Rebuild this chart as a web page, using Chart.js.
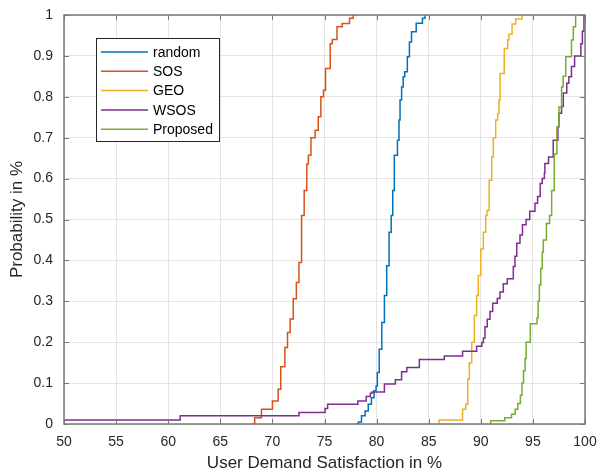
<!DOCTYPE html>
<html>
<head>
<meta charset="utf-8">
<script src="https://cdn.jsdelivr.net/npm/chart.js@4.4.1/dist/chart.umd.min.js"></script>
<style>
html, body { margin: 0; padding: 0; background: #fff; }
#wrap { width: 597px; height: 474px; }
</style>
</head>
<body>
<div id="wrap"><canvas id="cdfChart" width="597" height="474"></canvas></div>
<script>
// --- data (x = satisfaction %, y = cumulative probability) ---
const seriesNames = ['random', 'SOS', 'GEO', 'WSOS', 'Proposed'];
const seriesColors = ['#0072BD', '#D95319', '#EDB120', '#7E2F8E', '#77AC30'];

const randomPts = [[78.0,0],[78.25,0.005],[78.55,0.02],[78.9,0.032],[79.2,0.048],[79.5,0.064],[79.75,0.081],[79.95,0.093],[80.07,0.126],[80.25,0.183],[80.5,0.248],[80.75,0.314],[80.97,0.387],[81.2,0.469],[81.4,0.51],[81.55,0.571],[81.7,0.657],[82.0,0.694],[82.15,0.743],[82.25,0.792],[82.4,0.824],[82.55,0.849],[82.7,0.861],[82.95,0.898],[83.15,0.934],[83.35,0.959],[83.8,0.98],[84.4,0.992],[84.65,1]];

const sosPts = [[68.05,0],[68.3,0.015],[68.95,0.036],[70.0,0.056],[70.55,0.085],[70.8,0.14],[71.2,0.187],[71.45,0.224],[71.7,0.257],[72.0,0.306],[72.3,0.346],[72.55,0.395],[72.8,0.51],[73.05,0.571],[73.3,0.636],[73.45,0.657],[73.7,0.7],[74.1,0.718],[74.4,0.751],[74.65,0.8],[74.9,0.816],[75.1,0.869],[75.55,0.93],[75.75,0.94],[76.2,0.971],[76.7,0.979],[77.4,0.992],[77.75,1]];

const geoPts = [[85.92,0],[86.0,0.01],[88.25,0.036],[88.55,0.048],[88.75,0.11],[88.9,0.15],[89.13,0.2],[89.38,0.265],[89.6,0.314],[89.76,0.363],[90.0,0.428],[90.24,0.469],[90.47,0.51],[90.6,0.522],[90.8,0.596],[91.05,0.653],[91.2,0.7],[91.43,0.743],[91.62,0.759],[91.75,0.792],[91.85,0.857],[92.25,0.918],[92.58,0.939],[92.7,0.953],[93.0,0.978],[93.35,0.99],[93.95,1]];

const wsosPts = [[50,0],[50,0.01],[61.15,0.02],[72.55,0.028],[75.05,0.038],[75.3,0.048],[78.2,0.056],[79.0,0.067],[79.4,0.075],[79.55,0.078],[80.75,0.098],[81.8,0.108],[82.4,0.128],[82.9,0.138],[84.1,0.158],[86.5,0.166],[88.25,0.178],[89.6,0.19],[90.1,0.199],[90.25,0.21],[90.4,0.238],[90.62,0.256],[90.88,0.275],[91.14,0.295],[91.58,0.307],[91.84,0.323],[92.16,0.343],[92.54,0.355],[93.12,0.385],[93.28,0.41],[93.45,0.442],[93.76,0.462],[94.0,0.487],[94.35,0.5],[94.7,0.52],[95.2,0.54],[95.45,0.556],[95.7,0.588],[95.9,0.6],[96.1,0.613],[96.15,0.637],[96.5,0.653],[96.95,0.694],[97.4,0.727],[97.5,0.76],[97.75,0.776],[97.92,0.809],[98.25,0.833],[98.45,0.849],[98.7,0.874],[99.0,0.9],[99.6,0.93],[99.75,0.96],[99.9,1]];

const proposedPts = [[90.9,0],[90.95,0.008],[92.3,0.015],[92.95,0.024],[93.3,0.036],[93.55,0.05],[93.8,0.07],[93.95,0.1],[94.1,0.13],[94.25,0.16],[94.35,0.2],[94.75,0.245],[95.4,0.26],[95.5,0.3],[95.62,0.34],[95.75,0.38],[95.9,0.42],[96.0,0.45],[96.3,0.49],[96.6,0.51],[96.8,0.571],[97.05,0.66],[97.3,0.726],[97.5,0.775],[97.75,0.824],[97.9,0.85],[98.15,0.898],[98.7,0.939],[98.88,0.971],[99.1,1]];

const seriesPts = [randomPts, sosPts, geoPts, wsosPts, proposedPts];

// axis ticks
const xTickValues = [50, 55, 60, 65, 70, 75, 80, 85, 90, 95, 100];
const yTickValues = [0, 0.1, 0.2, 0.3, 0.4, 0.5, 0.6, 0.7, 0.8, 0.9, 1];
const yTickLabels = ['0', '0.1', '0.2', '0.3', '0.4', '0.5', '0.6', '0.7', '0.8', '0.9', '1'];

const FONT = "'Liberation Sans', Arial, sans-serif";
const TEXT_COLOR = '#262626';

// --- box round the axes with inward tick marks (MATLAB look) ---
const boxPlugin = {
    id: 'boxPlugin',
    afterDatasetsDraw(chart) {
        const { ctx, chartArea: a, scales } = chart;
        ctx.save();
        ctx.strokeStyle = '#777777';
        ctx.lineWidth = 1;
        ctx.beginPath();
        xTickValues.forEach(v => {
            const px = Math.round(scales.x.getPixelForValue(v)) + 0.5;
            ctx.moveTo(px, a.bottom); ctx.lineTo(px, a.bottom - 5);
            ctx.moveTo(px, a.top); ctx.lineTo(px, a.top + 5);
        });
        yTickValues.forEach(v => {
            const py = Math.round(scales.y.getPixelForValue(v)) + 0.5;
            ctx.moveTo(a.left, py); ctx.lineTo(a.left + 5, py);
            ctx.moveTo(a.right, py); ctx.lineTo(a.right - 5, py);
        });
        ctx.stroke();
        ctx.lineWidth = 1.5;
        ctx.strokeRect(a.left, a.top, a.right - a.left, a.bottom - a.top);
        ctx.restore();
    }
};

// --- legend box drawn inside the plot ---
const legendBox = {
    id: 'legendBox',
    afterDraw(chart) {
        const ctx = chart.ctx;
        const bx = 96.5, by = 38.5, bw = 123, bh = 103;
        ctx.save();
        ctx.fillStyle = '#ffffff';
        ctx.fillRect(bx, by, bw, bh);
        ctx.strokeStyle = '#262626';
        ctx.lineWidth = 1;
        ctx.strokeRect(bx, by, bw, bh);
        ctx.font = '14px ' + FONT;
        ctx.textBaseline = 'middle';
        chart.data.datasets.forEach((ds, i) => {
            const y = 52 + i * 19.3;
            ctx.strokeStyle = ds.borderColor;
            ctx.lineWidth = 1.5;
            ctx.beginPath();
            ctx.moveTo(101, y); ctx.lineTo(148, y);
            ctx.stroke();
            ctx.fillStyle = '#000000';
            ctx.fillText(ds.label, 153, y + 1);
        });
        ctx.restore();
    }
};

const ctx = document.getElementById('cdfChart').getContext('2d');
new Chart(ctx, {
    type: 'scatter',
    data: {
        datasets: seriesNames.map((name, i) => ({
            label: name,
            data: seriesPts[i].map(p => ({ x: p[0], y: p[1] })),
            borderColor: seriesColors[i],
            backgroundColor: seriesColors[i],
            borderWidth: 1.5,
            showLine: true,
            stepped: true,
            pointRadius: 0,
            order: seriesNames.length - i
        }))
    },
    options: {
        responsive: false,
        animation: false,
        layout: { padding: { top: 15, right: 12, left: 0, bottom: 0 } },
        plugins: {
            legend: { display: false },
            tooltip: { enabled: false }
        },
        scales: {
            x: {
                type: 'linear',
                min: 50,
                max: 100,
                afterBuildTicks: s => { s.ticks = xTickValues.map(v => ({ value: v })); },
                afterFit: s => { s.height = 50; s.paddingLeft = 0; s.paddingRight = 0; },
                ticks: { font: { family: FONT, size: 14 }, color: TEXT_COLOR, padding: 10, maxRotation: 0, autoSkip: false },
                grid: { color: '#e4e4e4', drawTicks: false },
                border: { display: false },
                title: { display: true, text: 'User Demand Satisfaction in %', font: { family: FONT, size: 17 }, color: TEXT_COLOR, padding: { top: 0, bottom: 0 } }
            },
            y: {
                type: 'linear',
                min: 0,
                max: 1,
                afterBuildTicks: s => { s.ticks = yTickValues.map(v => ({ value: v })); },
                afterFit: s => { s.width = 64; s.paddingTop = 0; s.paddingBottom = 0; },
                ticks: { font: { family: FONT, size: 14 }, color: TEXT_COLOR, padding: 11, autoSkip: false,
                         callback: (v, i) => yTickLabels[i] },
                grid: { color: '#e4e4e4', drawTicks: false },
                border: { display: false },
                title: { display: true, text: 'Probability in %', font: { family: FONT, size: 17 }, color: TEXT_COLOR, padding: { top: 7, bottom: 0 } }
            }
        }
    },
    plugins: [boxPlugin, legendBox]
});
</script>
</body>
</html>
